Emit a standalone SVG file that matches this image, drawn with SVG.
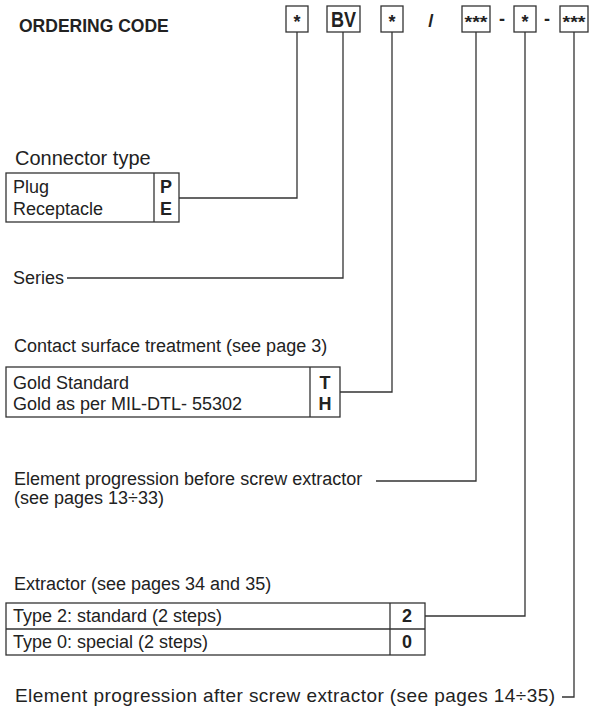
<svg xmlns="http://www.w3.org/2000/svg" width="591" height="717" viewBox="0 0 591 717">
<style>
text{font-family:"Liberation Sans",Arial,Helvetica,sans-serif;fill:#222}
.lbl{font-size:18px}
.big{font-size:20px}
.b{font-weight:bold}
.code{font-size:18px;font-weight:bold;text-anchor:middle}
.box{fill:none;stroke:#333;stroke-width:1.3}
.ln{fill:none;stroke:#333;stroke-width:1.3}
</style>
<rect width="591" height="717" fill="#fff"/>
<g id="title"><text x="19" y="32" class="b" style="font-size:17.5px">ORDERING CODE</text></g>
<g id="code">
<rect class="box" x="286" y="6" width="22" height="26"/><text class="code" x="297" y="28">*</text>
<rect class="box" x="327" y="6" width="33" height="26"/><text x="331" y="27" class="b" style="font-size:22px" textLength="25" lengthAdjust="spacingAndGlyphs">BV</text>
<rect class="box" x="381" y="6" width="22" height="26"/><text class="code" x="392" y="28">*</text>
<text class="code" x="431" y="27" style="font-size:19px">/</text>
<rect class="box" x="462" y="6" width="28" height="26"/><text class="code" x="476" y="28" style="font-size:16px" textLength="23" lengthAdjust="spacingAndGlyphs">***</text>
<text class="code" x="502" y="25">-</text>
<rect class="box" x="514" y="6" width="22" height="26"/><text class="code" x="525" y="28">*</text>
<text class="code" x="547" y="25">-</text>
<rect class="box" x="560" y="6" width="28" height="26"/><text class="code" x="574" y="28" style="font-size:16px" textLength="23" lengthAdjust="spacingAndGlyphs">***</text>
</g>
<g id="connector-type">
<text class="big" x="15" y="165">Connector type</text>
<rect class="box" x="6" y="173" width="173" height="49"/>
<line class="ln" x1="154" y1="173" x2="154" y2="222"/>
<text class="lbl" x="13" y="193">Plug</text>
<text class="lbl" x="13" y="215">Receptacle</text>
<text class="lbl b" x="166" y="193" text-anchor="middle">P</text>
<text class="lbl b" x="166" y="215" text-anchor="middle">E</text>
</g>
<g id="series"><text class="lbl" x="13" y="284">Series</text></g>
<g id="surface">
<text class="lbl" x="14" y="352">Contact surface treatment (see page 3)</text>
<rect class="box" x="6" y="367" width="334" height="50"/>
<line class="ln" x1="310" y1="367" x2="310" y2="417"/>
<text class="lbl" x="13" y="389">Gold Standard</text>
<text class="lbl" x="13" y="410">Gold as per MIL-DTL- 55302</text>
<text class="lbl b" x="325" y="389" text-anchor="middle">T</text>
<text class="lbl b" x="325" y="410" text-anchor="middle">H</text>
</g>
<g id="before">
<text class="lbl" x="14" y="485">Element progression before screw extractor</text>
<text class="lbl" x="14" y="504">(see pages 13÷33)</text>
</g>
<g id="extractor">
<text class="lbl" x="14" y="590">Extractor (see pages 34 and 35)</text>
<rect class="box" x="6" y="603" width="419" height="52"/>
<line class="ln" x1="390" y1="603" x2="390" y2="655"/>
<line class="ln" x1="6" y1="629" x2="425" y2="629"/>
<text class="lbl" x="13" y="622">Type 2: standard (2 steps)</text>
<text class="lbl" x="13" y="648">Type 0: special (2 steps)</text>
<text class="lbl b" x="407" y="622" text-anchor="middle">2</text>
<text class="lbl b" x="407" y="648" text-anchor="middle">0</text>
</g>
<g id="after"><text x="15" y="702" style="font-size:19px" textLength="540">Element progression after screw extractor (see pages 14÷35)</text></g>
<g id="connectors">
<polyline class="ln" points="297,32 297,198 179,198"/>
<polyline class="ln" points="343,32 343,278 67,278"/>
<polyline class="ln" points="392,32 392,392 340,392"/>
<polyline class="ln" points="476,32 476,481 376,481"/>
<polyline class="ln" points="525,32 525,616 425,616"/>
<polyline class="ln" points="574,32 574,697 562,697"/>
</g>
</svg>
